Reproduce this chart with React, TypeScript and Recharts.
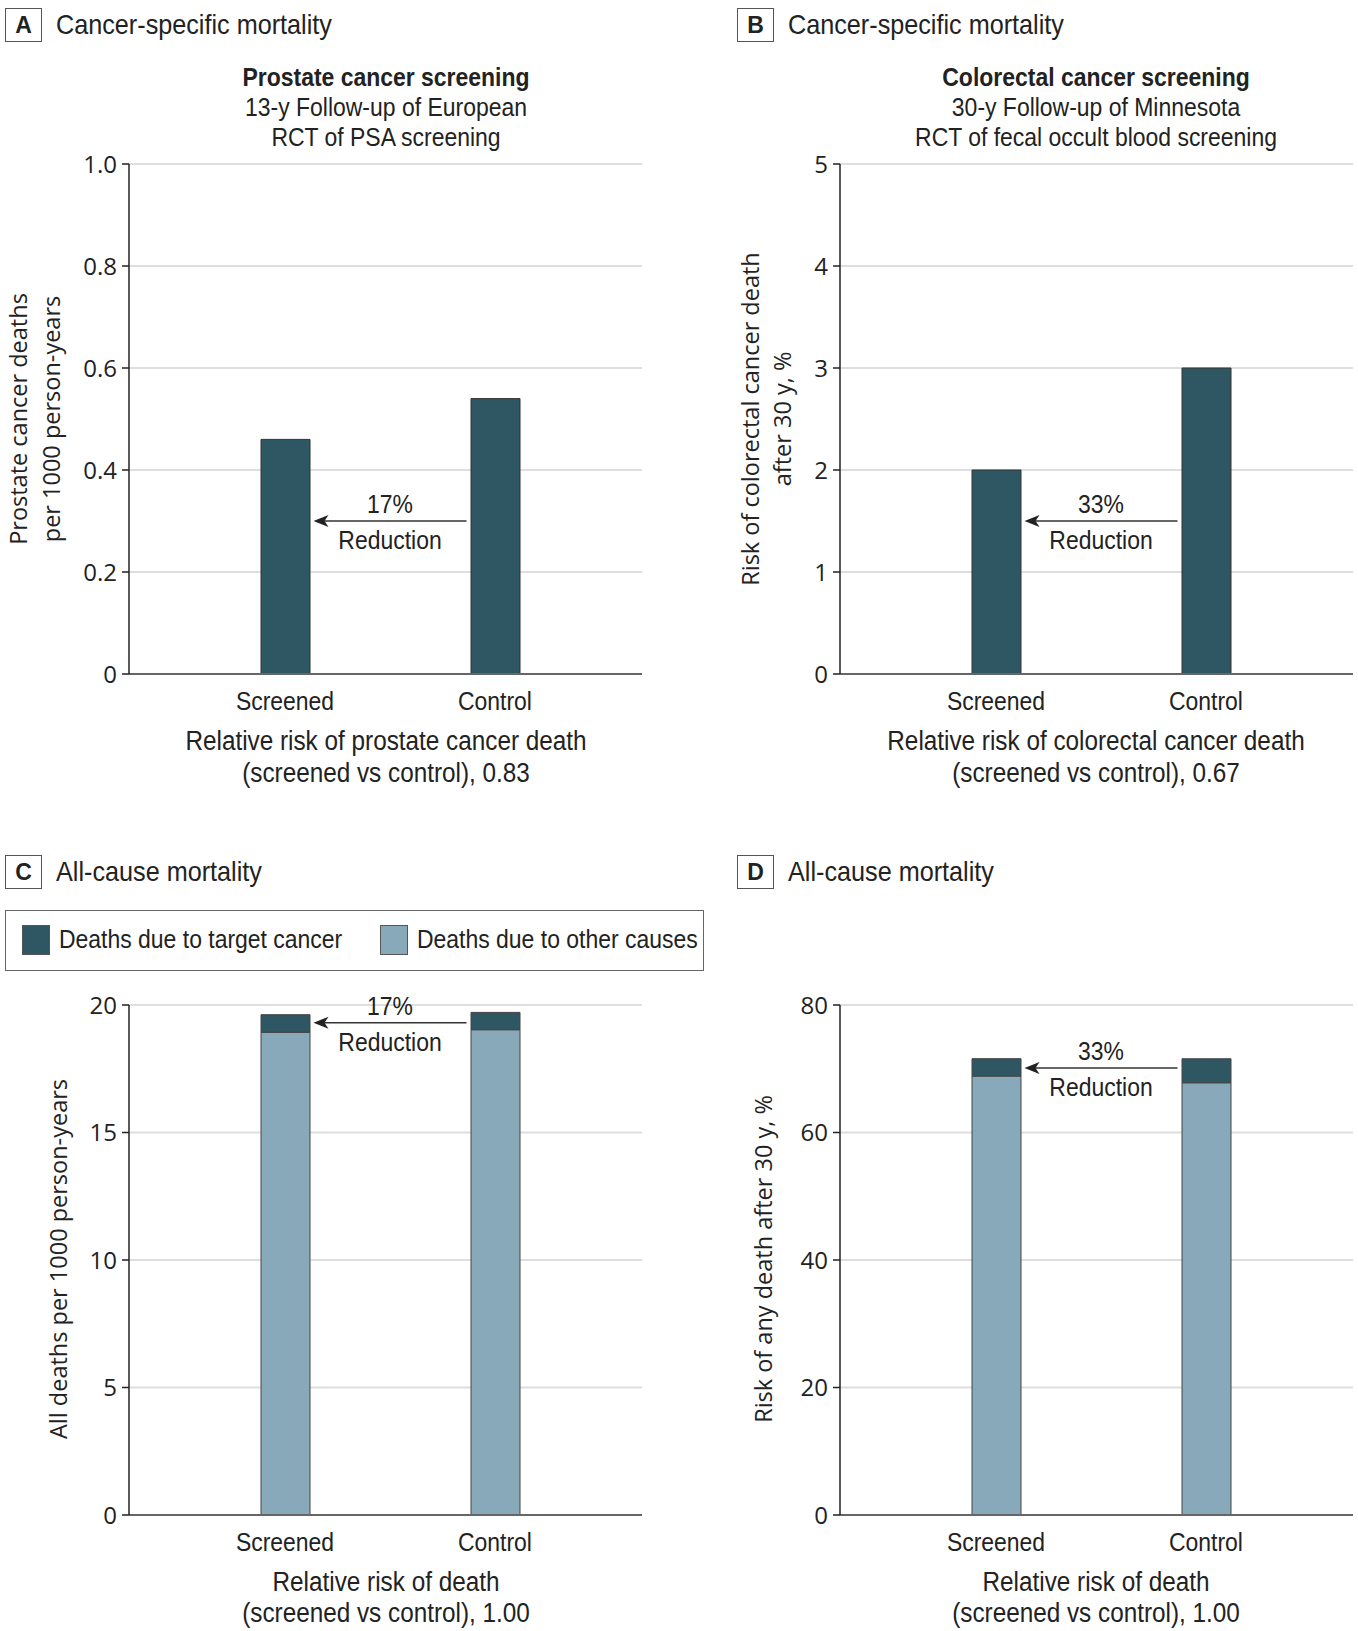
import React from 'react';
import { BarChart, Bar, XAxis, YAxis, CartesianGrid, ReferenceLine } from 'recharts';

const categories = ['Screened', 'Control'];
const prostateDeaths = [0.46, 0.54];
const colorectalRisk = [2, 3];
const allCauseOther = [18.93, 19.03];
const allCauseTarget = [0.69, 0.68];
const anyDeathOther = [68.85, 67.8];
const anyDeathTarget = [2.73, 3.77];

const prostateTicks = [0, 0.2, 0.4, 0.6, 0.8, 1.0];
const colorectalTicks = [0, 1, 2, 3, 4, 5];
const allCauseTicks = [0, 5, 10, 15, 20];
const anyDeathTicks = [0, 20, 40, 60, 80];

const seriesNames = ['Deaths due to target cancer', 'Deaths due to other causes'];
const reductionLabels = ['17%', '33%'];
const arrowLevels = [0.3, 1.5, 19.3, 70.1];

// the original uses a condensed face; squeeze Liberation Sans horizontally
const NARROW = "'Liberation Sans', Arial, sans-serif";
const WIDE = "'Open Sans', 'DejaVu Sans', sans-serif";
const SX = 0.9;
const DARK = '#2f5663';
const LIGHT = '#87a9b9';
const TEXT = '#222';

const PLOT_W = 513;
const PLOT_H = 510;
const Y_AXIS_W = 80;
const M_TOP = 20;
const M_RIGHT = 10;
const X_AXIS_H = 50;
const BAR_SIZE = 49;

const simpleData = (vals: number[]) => categories.map((name, i) => ({ name, value: vals[i] }));
const stackData = (other: number[], target: number[]) =>
  categories.map((name, i) => ({ name, other: other[i], target: target[i] }));

const oneDecimal = (v: number) => (v === 0 ? '0' : v.toFixed(1));
const plain = (v: number) => String(v);

function SvgNarrow({ x, y, size = 25.5, dy, children }: any) {
  return (
    <text
      transform={`translate(${x},${y}) scale(${SX},1)`}
      textAnchor="middle"
      dominantBaseline={dy ? undefined : 'central'}
      dy={dy}
      fontFamily={NARROW}
      fontSize={size}
      fill={TEXT}
    >
      {children}
    </text>
  );
}

function XTick(props: any) {
  const { x, y, payload } = props;
  return <SvgNarrow x={x} y={y} dy="0.71em">{payload.value}</SvgNarrow>;
}

function Arrow(props: any) {
  const { x1, x2, y1, pct } = props;
  const right = Math.max(x1, x2) - BAR_SIZE / 2 - 4;
  const left = Math.min(x1, x2) + BAR_SIZE / 2 + 4;
  const mid = (left + right) / 2;
  return (
    <g>
      <line x1={right} y1={y1} x2={left + 8} y2={y1} stroke="#333" strokeWidth={1.5} />
      <path d={`M${left},${y1} L${left + 15},${y1 - 6} L${left + 11},${y1} L${left + 15},${y1 + 6} Z`} fill="#222" />
      <SvgNarrow x={mid} y={y1 - 17}>{pct}</SvgNarrow>
      <SvgNarrow x={mid} y={y1 + 19}>Reduction</SvgNarrow>
    </g>
  );
}

interface PanelProps {
  x0: number;
  y0: number;
  data: any[];
  ticks: number[];
  fmt: (v: number) => string;
  stacked?: boolean;
  arrowY: number;
  pct: string;
}

function Panel({ x0, y0, data, ticks, fmt, stacked, arrowY, pct }: PanelProps) {
  return (
    <div style={{ position: 'absolute', left: x0 - Y_AXIS_W, top: y0 - M_TOP }}>
      <BarChart
        width={Y_AXIS_W + PLOT_W + M_RIGHT}
        height={M_TOP + PLOT_H + X_AXIS_H}
        data={data}
        margin={{ top: M_TOP, right: M_RIGHT, bottom: 0, left: 0 }}
        barSize={BAR_SIZE}
      >
        <CartesianGrid vertical={false} stroke="#dedede" strokeWidth={2} />
        <XAxis
          dataKey="name"
          height={X_AXIS_H}
          padding={{ left: 51, right: 42 }}
          tickLine={false}
          tickSize={0}
          tickMargin={18}
          axisLine={{ stroke: '#666', strokeWidth: 2 }}
          tick={<XTick />}
        />
        <YAxis
          width={Y_AXIS_W}
          domain={[0, ticks[ticks.length - 1]]}
          ticks={ticks}
          interval={0}
          tickFormatter={fmt}
          tickSize={7}
          tickMargin={5}
          axisLine={{ stroke: '#222', strokeWidth: 1.5 }}
          tickLine={{ stroke: '#222', strokeWidth: 1.5 }}
          tick={{ fill: TEXT, fontSize: 24, fontFamily: WIDE }}
        />
        {stacked ? (
          <>
            <Bar dataKey="other" stackId="s" fill={LIGHT} stroke="#444" strokeWidth={1} isAnimationActive={false} />
            <Bar dataKey="target" stackId="s" fill={DARK} stroke="#444" strokeWidth={1} isAnimationActive={false} />
          </>
        ) : (
          <Bar dataKey="value" fill={DARK} stroke="#333" strokeWidth={1} isAnimationActive={false} />
        )}
        <ReferenceLine
          segment={[
            { x: categories[1], y: arrowY },
            { x: categories[0], y: arrowY },
          ]}
          ifOverflow="visible"
          shape={(p: any) => <Arrow {...p} pct={pct} />}
        />
      </BarChart>
    </div>
  );
}

function Txt({ x, y, size = 25.5, bold = false, children }: any) {
  return (
    <div
      style={{
        position: 'absolute',
        left: x,
        top: y,
        transform: `translate(-50%, -50%) scaleX(${SX})`,
        whiteSpace: 'nowrap',
        fontFamily: NARROW,
        fontSize: size,
        fontWeight: bold ? 'bold' : 'normal',
        lineHeight: 1,
        color: TEXT,
      }}
    >
      {children}
    </div>
  );
}

function YTitle({ x, y, children }: any) {
  return (
    <div
      style={{
        position: 'absolute',
        left: x,
        top: y,
        transform: 'translate(-50%, -50%) rotate(-90deg)',
        whiteSpace: 'nowrap',
        fontFamily: WIDE,
        fontSize: 23.5,
        lineHeight: 1,
        color: TEXT,
      }}
    >
      {children}
    </div>
  );
}

function Header({ x, y, letter, title }: { x: number; y: number; letter: string; title: string }) {
  return (
    <>
      <div
        style={{
          position: 'absolute',
          left: x,
          top: y,
          width: 35,
          height: 32,
          border: '1.5px solid #555',
          display: 'flex',
          alignItems: 'center',
          justifyContent: 'center',
          fontFamily: NARROW,
          fontWeight: 'bold',
          fontSize: 23,
          color: TEXT,
        }}
      >
        {letter}
      </div>
      <div
        style={{
          position: 'absolute',
          left: x + 51,
          top: y + 17,
          transform: `translateY(-50%) scaleX(${SX})`,
          transformOrigin: 'left center',
          whiteSpace: 'nowrap',
          fontFamily: NARROW,
          fontSize: 28,
          lineHeight: 1,
          color: TEXT,
        }}
      >
        {title}
      </div>
    </>
  );
}

export default function App() {
  const ax = 129;
  const bx = 840;
  const topY = 164;
  const botY = 1004.5;
  const aMid = 386;
  const bMid = 1096;
  return (
    <div style={{ position: 'absolute', left: 0, top: 0, width: 1358, height: 1631, background: '#fff' }}>
      <Header x={5} y={8} letter="A" title="Cancer-specific mortality" />
      <Header x={737} y={8} letter="B" title="Cancer-specific mortality" />
      <Header x={5} y={855} letter="C" title="All-cause mortality" />
      <Header x={737} y={855} letter="D" title="All-cause mortality" />

      <Txt x={aMid} y={78} bold>Prostate cancer screening</Txt>
      <Txt x={aMid} y={108}>13-y Follow-up of European</Txt>
      <Txt x={aMid} y={138}>RCT of PSA screening</Txt>
      <Txt x={bMid} y={78} bold>Colorectal cancer screening</Txt>
      <Txt x={bMid} y={108}>30-y Follow-up of Minnesota</Txt>
      <Txt x={bMid} y={138}>RCT of fecal occult blood screening</Txt>

      <Panel x0={ax} y0={topY} data={simpleData(prostateDeaths)} ticks={prostateTicks} fmt={oneDecimal} arrowY={arrowLevels[0]} pct={reductionLabels[0]} />
      <Panel x0={bx} y0={topY} data={simpleData(colorectalRisk)} ticks={colorectalTicks} fmt={plain} arrowY={arrowLevels[1]} pct={reductionLabels[1]} />
      <Panel x0={ax} y0={botY} data={stackData(allCauseOther, allCauseTarget)} ticks={allCauseTicks} fmt={plain} stacked arrowY={arrowLevels[2]} pct={reductionLabels[0]} />
      <Panel x0={bx} y0={botY} data={stackData(anyDeathOther, anyDeathTarget)} ticks={anyDeathTicks} fmt={plain} stacked arrowY={arrowLevels[3]} pct={reductionLabels[1]} />

      <YTitle x={19} y={419}>Prostate cancer deaths</YTitle>
      <YTitle x={52} y={419}>per 1000 person-years</YTitle>
      <YTitle x={751} y={419}>Risk of colorectal cancer death</YTitle>
      <YTitle x={783} y={419}>after 30 y, %</YTitle>
      <YTitle x={59} y={1259}>All deaths per 1000 person-years</YTitle>
      <YTitle x={764} y={1259}>Risk of any death after 30 y, %</YTitle>

      <Txt x={aMid} y={741} size={27}>Relative risk of prostate cancer death</Txt>
      <Txt x={aMid} y={773} size={27}>(screened vs control), 0.83</Txt>
      <Txt x={bMid} y={741} size={27}>Relative risk of colorectal cancer death</Txt>
      <Txt x={bMid} y={773} size={27}>(screened vs control), 0.67</Txt>
      <Txt x={aMid} y={1582} size={27}>Relative risk of death</Txt>
      <Txt x={aMid} y={1613} size={27}>(screened vs control), 1.00</Txt>
      <Txt x={bMid} y={1582} size={27}>Relative risk of death</Txt>
      <Txt x={bMid} y={1613} size={27}>(screened vs control), 1.00</Txt>

      <div
        style={{
          position: 'absolute',
          left: 5,
          top: 910,
          width: 699,
          height: 61,
          boxSizing: 'border-box',
          border: '1.5px solid #666',
        }}
      >
        {seriesNames.map((name, i) => (
          <div
            key={name}
            style={{
              position: 'absolute',
              left: i === 0 ? 16 : 374,
              top: 14,
              display: 'flex',
              alignItems: 'center',
              whiteSpace: 'nowrap',
            }}
          >
            <div
              style={{
                width: 28,
                height: 30,
                boxSizing: 'border-box',
                background: i === 0 ? DARK : LIGHT,
                border: '1px solid #555',
                marginRight: 9,
              }}
            />
            <span
              style={{
                fontFamily: NARROW,
                fontSize: 25.5,
                color: TEXT,
                lineHeight: 1,
                display: 'inline-block',
                transform: `scaleX(${SX})`,
                transformOrigin: 'left center',
              }}
            >
              {name}
            </span>
          </div>
        ))}
      </div>
    </div>
  );
}
